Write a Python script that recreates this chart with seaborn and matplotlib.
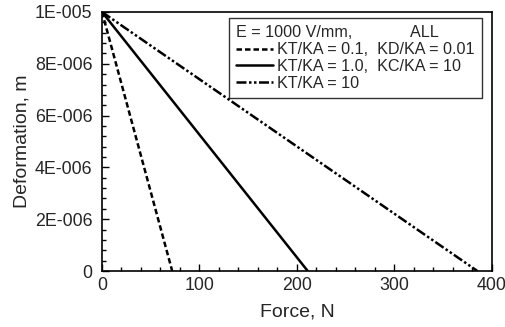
import pandas as pd
import seaborn as sns
import matplotlib.pyplot as plt
from matplotlib.ticker import MultipleLocator, FuncFormatter

# === DANE ===
labels = ["KT/KA = 0.1,  KD/KA = 0.01", "KT/KA = 1.0,  KC/KA = 10", "KT/KA = 10"]
force_start = [0, 0, 0]
force_end = [72, 211, 385]
deform_start = [1e-5, 1e-5, 1e-5]
deform_end = [0, 0, 0]

rows = []
for lab, f0, f1, d0, d1 in zip(labels, force_start, force_end, deform_start, deform_end):
    rows.append({"case": lab, "force": f0, "deform": d0})
    rows.append({"case": lab, "force": f1, "deform": d1})
df = pd.DataFrame(rows)

sns.set_theme(style="ticks")
plt.rcParams["font.family"] = ["Liberation Sans", "DejaVu Sans"]

fig = plt.figure(figsize=(5.06, 3.27), dpi=100)
ax = fig.add_axes([102 / 506, 1 - 271 / 327, 390 / 506, 259 / 327])

dashes = {labels[0]: (2.2, 1.2), labels[1]: "", labels[2]: (4, 1, 1, 1, 1, 1)}
sns.lineplot(data=df, x="force", y="deform", hue="case", style="case",
             palette=["black"] * 3, dashes=dashes, linewidth=1.8,
             ax=ax, legend=False, sort=False, estimator=None)

ax.set_xlim(0, 400)
ax.set_ylim(0, 1e-5)
ax.xaxis.set_major_locator(MultipleLocator(100))
ax.xaxis.set_minor_locator(MultipleLocator(20))
ax.yaxis.set_major_locator(MultipleLocator(2e-6))
ax.yaxis.set_minor_locator(MultipleLocator(4e-7))


def fmt_y(v, pos):
    if abs(v) < 1e-12:
        return "0"
    m, e = f"{v:.0E}".split("E")
    return f"{m}E-{abs(int(e)):03d}"


ax.yaxis.set_major_formatter(FuncFormatter(fmt_y))
ax.tick_params(which="both", direction="in", labelsize=12.8, color="black", width=1)
ax.tick_params(which="major", length=5)
ax.tick_params(which="minor", length=3)
ax.tick_params(axis="x", which="major", pad=4)
ax.tick_params(axis="y", which="major", pad=7)
for s in ax.spines.values():
    s.set_visible(True)
    s.set_linewidth(1.2)
    s.set_color("black")

ax.set_xlabel("Force, N", fontsize=14, labelpad=7)
ax.set_ylabel("Deformation, m", fontsize=14, labelpad=3)

handles = ax.get_lines()[:3]
leg = ax.legend(handles, labels, title="E = 1000 V/mm,             ALL",
                loc="upper right", bbox_to_anchor=(0.975, 0.977), fontsize=11.6,
                title_fontsize=11.6, frameon=True, fancybox=False, edgecolor="black",
                handlelength=2.3, handletextpad=0.25, borderpad=0.45,
                labelspacing=0.12, borderaxespad=0, alignment="left")
leg.get_frame().set_linewidth(1)

plt.savefig("out.png", dpi=100)
plt.close()
